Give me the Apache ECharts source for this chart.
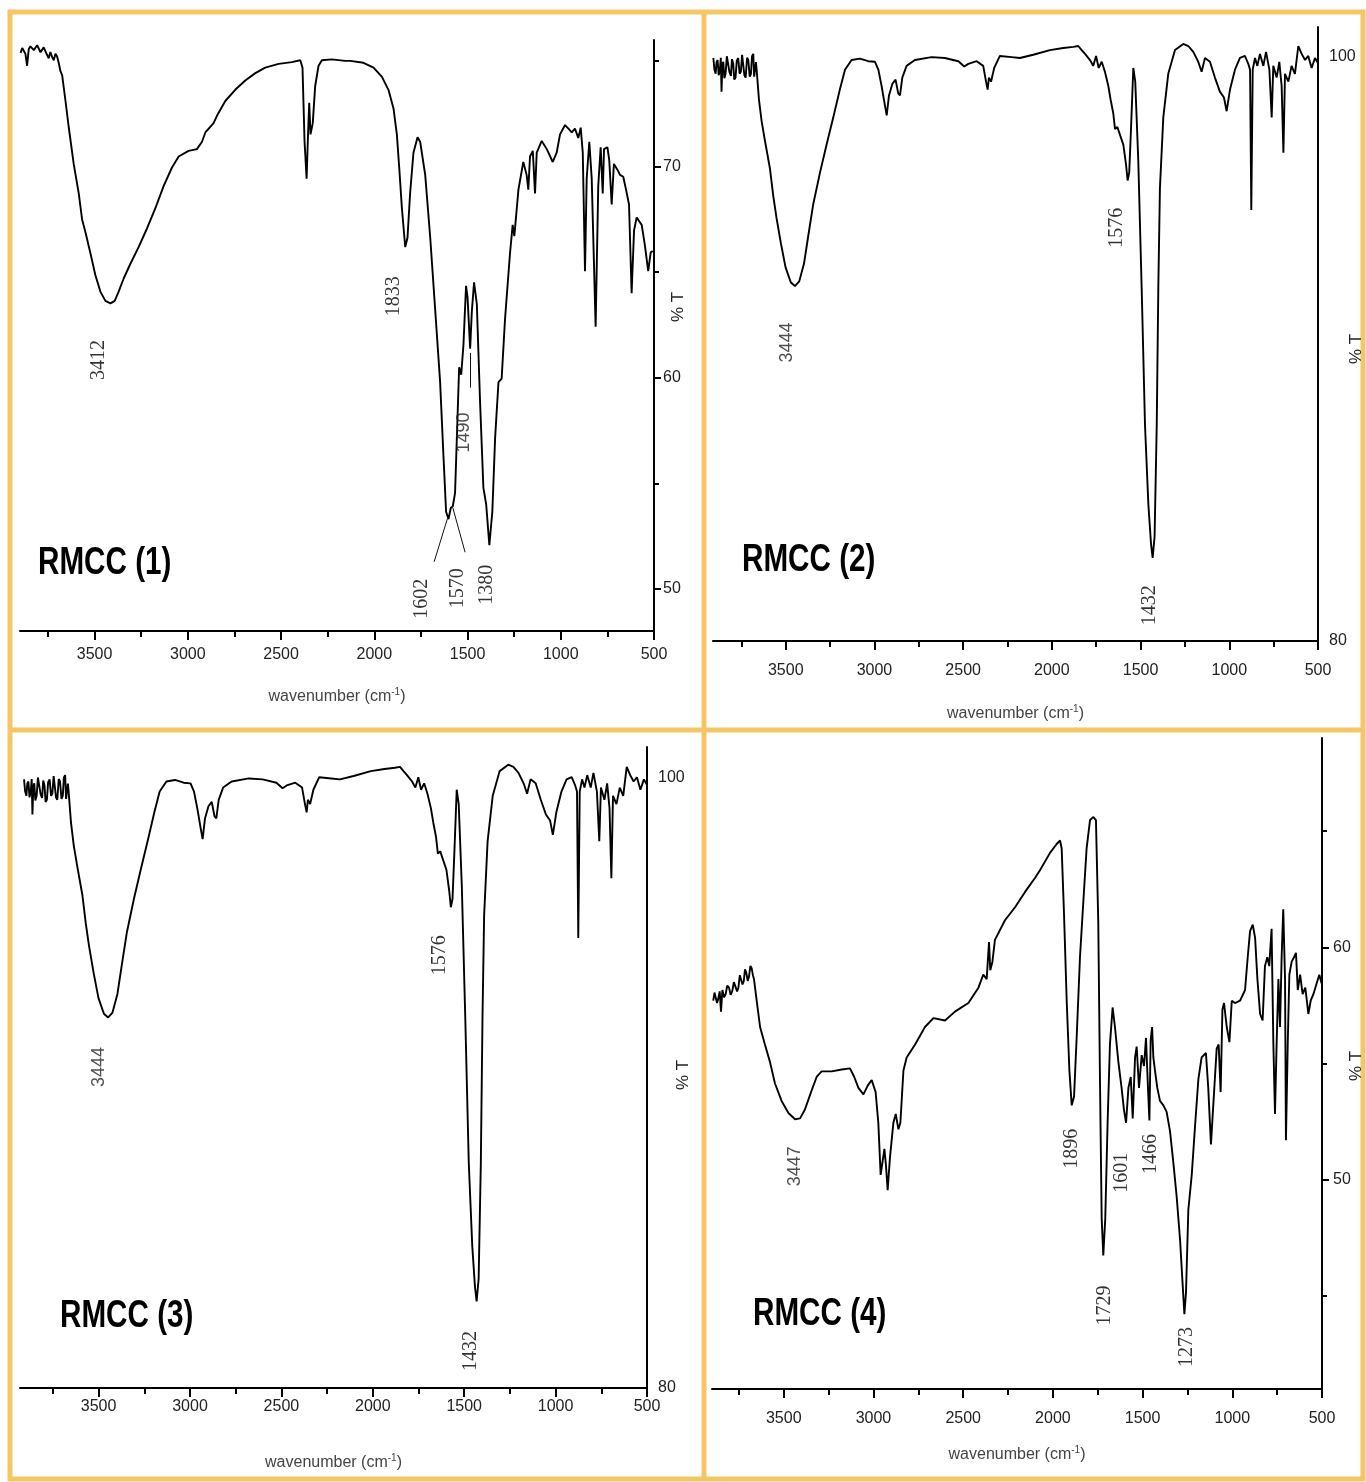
<!DOCTYPE html>
<html>
<head>
<meta charset="utf-8">
<title>FTIR spectra of RMCC (1) to RMCC (4)</title>
<script src="https://cdn.jsdelivr.net/npm/echarts@6/dist/echarts.min.js"></script>
<style>
  html, body { margin: 0; padding: 0; background: #fff; }
  #chart { width: 1366px; height: 1482px; }
</style>
</head>
<body>
<div id="chart"></div>
<script>
// wavenumber ticks shared by all four panels
var X_MAJOR = [500, 1000, 1500, 2000, 2500, 3000, 3500];
var X_MINOR = [750, 1250, 1750, 2250, 2750, 3250, 3750];

// %T ticks
var yLabels1 = [50, 60, 70];
var yMinor1 = [55, 65, 75];
var yLabels2 = [80, 100];
var yLabels3 = [80, 100];
var yLabels4 = [50, 60];
var yMinor4 = [45, 55, 65];

// [wavenumber, %T]
var spectrum1 = [
  [3897,75.39],[3888,75.62],[3880,75.66],[3871,75.35],[3862,74.78],[3853,75.57],[3844,75.70],[3835,75.74],
  [3826,75.52],[3817,75.48],[3808,75.75],[3799,75.71],[3790,75.42],[3782,75.39],[3773,75.65],[3764,75.57],
  [3755,75.30],[3746,75.13],[3737,75.43],[3728,75.20],[3719,75.04],[3710,75.35],[3701,75.22],[3692,74.90],
  [3683,74.52],[3674,74.34],[3656,73.11],[3639,71.89],[3612,70.13],[3585,68.73],[3567,67.50],[3549,66.89],
  [3523,65.92],[3496,64.87],[3469,64.08],[3442,63.64],[3415,63.52],[3392,63.64],[3371,64.08],[3344,64.70],
  [3308,65.40],[3264,66.19],[3219,67.07],[3174,68.03],[3130,69.08],[3085,69.96],[3049,70.48],[2996,70.75],
  [2951,70.83],[2924,71.18],[2906,71.62],[2862,72.06],[2844,72.41],[2799,73.11],[2746,73.64],[2692,74.08],
  [2638,74.43],[2585,74.69],[2513,74.87],[2442,74.95],[2397,75.04],[2385,74.69],[2374,71.18],[2363,69.43],
  [2356,71.36],[2349,73.03],[2342,71.53],[2330,72.06],[2317,73.82],[2299,74.78],[2281,75.04],[2228,75.08],
  [2156,75.01],[2129,75.01],[2058,74.92],[2004,74.69],[1959,74.25],[1924,73.64],[1897,72.76],[1879,71.53],
  [1865,69.78],[1852,68.03],[1834,66.19],[1822,66.63],[1808,68.73],[1790,70.66],[1768,71.39],[1754,71.18],
  [1727,69.61],[1700,66.63],[1674,63.29],[1647,59.79],[1629,56.28],[1615,53.65],[1602,53.30],[1590,53.83],
  [1579,53.91],[1567,54.53],[1554,58.03],[1545,60.49],[1534,60.14],[1522,61.54],[1508,64.35],[1500,63.82],
  [1486,61.37],[1477,63.12],[1465,64.52],[1450,63.47],[1433,58.91],[1415,54.79],[1400,54.00],[1383,52.07],
  [1367,53.65],[1352,57.16],[1334,59.79],[1317,59.96],[1299,62.77],[1272,65.92],[1258,67.24],[1249,66.71],
  [1227,68.91],[1201,70.22],[1183,69.61],[1174,68.91],[1165,70.48],[1150,70.75],[1138,68.73],[1129,70.66],
  [1102,71.22],[1075,70.83],[1043,70.22],[1022,70.66],[1004,71.53],[977,71.97],[959,71.80],[941,71.62],
  [924,71.80],[906,71.36],[893,71.85],[882,70.66],[870,65.05],[861,69.43],[847,71.18],[834,69.43],
  [813,62.42],[799,69.08],[786,70.92],[775,68.73],[768,70.83],[750,70.92],[740,70.31],[727,68.21],
  [715,70.13],[697,69.87],[682,69.61],[665,69.52],[650,68.91],[634,68.21],[620,64.00],[607,66.98],
  [593,67.59],[566,67.24],[549,66.28],[531,65.05],[518,65.93],[507,66.00]
];

var spectrum2 = [
  [3908,99.94],[3902,99.55],[3895,99.40],[3890,99.80],[3884,99.87],[3878,99.35],[3871,99.54],[3866,99.95],
  [3862,98.79],[3857,99.70],[3852,99.81],[3846,99.25],[3839,99.40],[3832,100.00],[3824,99.94],[3817,99.45],
  [3809,99.33],[3803,99.90],[3796,99.74],[3790,99.20],[3783,99.27],[3776,99.85],[3768,99.94],[3760,99.40],
  [3753,99.47],[3746,100.05],[3739,100.01],[3733,99.35],[3726,99.27],[3718,99.95],[3711,99.87],[3703,99.30],
  [3696,99.40],[3690,100.00],[3683,100.08],[3678,99.30],[3674,99.33],[3668,99.80],[3664,99.54],[3651,98.52],
  [3636,97.78],[3617,97.10],[3589,96.16],[3570,95.21],[3552,94.47],[3527,93.59],[3501,92.78],[3471,92.26],
  [3448,92.14],[3424,92.30],[3397,92.91],[3373,93.86],[3345,94.94],[3307,96.02],[3270,96.97],[3232,97.91],
  [3195,98.86],[3166,99.54],[3129,99.87],[3082,99.92],[3035,99.83],[2997,99.81],[2978,99.54],[2960,98.99],
  [2941,98.32],[2931,97.98],[2918,98.66],[2899,99.06],[2881,99.20],[2866,98.73],[2856,98.66],[2843,99.27],
  [2819,99.67],[2772,99.87],[2678,99.97],[2603,99.94],[2527,99.83],[2494,99.65],[2471,99.74],[2424,99.83],
  [2387,99.67],[2371,99.13],[2362,98.86],[2355,99.27],[2343,99.13],[2325,99.60],[2293,100.01],[2227,99.97],
  [2180,99.94],[2105,100.05],[2011,100.21],[1936,100.28],[1879,100.32],[1851,100.35],[1832,100.21],[1813,100.08],
  [1785,99.87],[1767,99.67],[1751,100.01],[1736,99.60],[1719,99.81],[1701,99.47],[1682,98.99],[1669,98.52],
  [1654,98.05],[1644,97.51],[1631,97.58],[1616,97.31],[1597,96.97],[1582,96.29],[1573,95.75],[1564,96.02],
  [1554,97.51],[1541,99.60],[1530,99.13],[1513,96.43],[1494,92.10],[1475,87.37],[1456,84.66],[1441,83.31],
  [1432,82.84],[1421,83.58],[1409,87.37],[1400,92.10],[1391,95.48],[1372,97.91],[1344,99.40],[1306,100.21],
  [1259,100.42],[1231,100.35],[1203,100.15],[1175,99.81],[1156,99.47],[1137,99.94],[1109,99.81],[1081,99.27],
  [1053,98.79],[1030,98.59],[1015,98.12],[996,98.86],[968,99.54],[940,99.94],[912,100.01],[893,99.74],
  [883,99.54],[876,94.74],[868,99.54],[855,99.94],[842,99.67],[827,100.08],[808,99.67],[793,100.15],
  [774,99.54],[761,97.91],[752,99.67],[733,99.27],[718,99.81],[705,98.99],[695,96.70],[686,99.40],
  [667,99.13],[649,99.67],[630,99.40],[611,100.35],[592,100.08],[573,99.87],[555,100.01],[536,99.60],
  [517,99.94],[498,99.74]
];

// RMCC (3) shows the same recorded trace as RMCC (2)
var spectrum3 = spectrum2;

var spectrum4 = [
  [3893,57.70],[3886,58.05],[3880,57.98],[3872,57.60],[3865,57.79],[3857,58.10],[3850,57.23],[3842,58.16],
  [3833,57.85],[3824,57.98],[3815,58.35],[3805,58.26],[3796,57.95],[3787,58.11],[3778,58.50],[3768,58.44],
  [3760,58.10],[3753,58.26],[3745,58.80],[3738,58.73],[3730,58.40],[3723,58.54],[3716,59.05],[3709,58.91],
  [3701,58.55],[3694,58.73],[3686,59.20],[3679,59.10],[3672,58.80],[3666,58.63],[3651,57.70],[3632,56.57],
  [3605,55.82],[3577,55.07],[3549,54.14],[3512,53.39],[3474,52.87],[3437,52.60],[3409,52.64],[3382,53.02],
  [3348,53.77],[3317,54.42],[3289,54.66],[3233,54.66],[3177,54.74],[3131,54.79],[3107,54.42],[3084,53.95],
  [3056,53.67],[3032,54.05],[3010,54.29],[2988,53.77],[2973,52.45],[2960,50.21],[2949,50.21],[2939,51.33],
  [2930,50.58],[2921,49.55],[2908,50.96],[2889,52.45],[2876,52.83],[2861,52.17],[2850,52.45],[2833,54.70],
  [2815,55.26],[2768,55.82],[2713,56.57],[2666,56.95],[2601,56.85],[2546,57.23],[2471,57.60],[2415,58.26],
  [2388,58.82],[2369,58.63],[2356,60.22],[2349,59.01],[2337,59.38],[2323,60.32],[2267,61.16],[2211,61.72],
  [2155,62.38],[2100,62.98],[2072,63.31],[2016,64.06],[1979,64.44],[1960,64.59],[1951,64.25],[1938,61.44],
  [1923,57.70],[1908,54.70],[1895,53.20],[1882,53.58],[1867,56.20],[1849,59.57],[1830,62.00],[1812,64.25],
  [1793,65.47],[1774,65.60],[1760,65.47],[1747,61.07],[1737,53.95],[1728,48.34],[1719,46.74],[1708,48.34],
  [1695,52.45],[1682,55.82],[1667,57.41],[1654,56.57],[1635,55.07],[1617,53.95],[1604,53.02],[1592,52.45],
  [1579,53.95],[1566,54.42],[1555,52.64],[1542,55.26],[1533,55.73],[1520,53.95],[1505,55.36],[1492,54.89],
  [1481,56.10],[1470,53.95],[1462,52.55],[1455,56.01],[1447,56.57],[1440,55.26],[1431,54.70],[1418,53.95],
  [1403,53.39],[1384,53.20],[1366,52.92],[1347,52.08],[1329,50.77],[1310,49.27],[1291,47.40],[1277,45.53],
  [1267,44.22],[1258,45.15],[1245,48.71],[1226,50.21],[1208,52.27],[1189,54.33],[1171,55.26],[1147,55.45],
  [1134,53.95],[1119,51.52],[1106,53.20],[1087,55.64],[1076,55.82],[1065,53.77],[1055,57.32],[1046,57.60],
  [1031,56.57],[1016,55.92],[1003,57.70],[985,57.60],[957,57.70],[929,58.16],[914,59.57],[901,60.69],
  [886,60.97],[873,60.41],[860,58.63],[845,57.13],[831,56.85],[818,59.19],[805,59.57],[794,59.19],
  [781,60.79],[771,55.82],[762,52.83],[753,55.82],[743,58.63],[734,56.57],[725,59.57],[716,61.63],
  [706,58.63],[701,51.70],[691,55.82],[682,58.82],[669,59.38],[656,59.57],[645,59.76],[635,58.16],
  [622,58.82],[608,57.98],[593,58.26],[576,57.13],[563,57.70],[548,57.98],[530,58.44],[515,58.82],
  [502,58.44]
];

// peak notes: [wavenumber, %T where the note sits, text]
var notes1 = [[3478, 60.84, '3412'], [1897, 63.86, '1833'], [1743, 49.53, '1602'],
              [1552, 50.02, '1570'], [1397, 50.19, '1380'], [1517, 57.4, '1490']];
var notes2 = [[3495, 90.21, '3444'], [1635, 94.13, '1576'], [1447, 81.22, '1432']];
var notes3 = [[3498, 90.52, '3444'], [1634, 94.18, '1576'], [1463, 81.21, '1432']];
var notes4 = [[3437, 50.58, '3447'], [1895, 51.33, '1896'], [1617, 50.30, '1601'],
              [1453, 51.11, '1466'], [1709, 44.59, '1729'], [1254, 42.81, '1273']];

// leader lines from notes to peaks: [w1, t1, w2, t2]
var leaders1 = [[1679, 51.28, 1608, 53.32], [1513, 51.73, 1579, 53.84], [1486, 61.18, 1486, 59.53]];

(function () {
  'use strict';

  var FRAME = '#f5c566';
  var SANS = '"Liberation Sans", Arial, sans-serif';
  var SERIF = '"Liberation Serif", "Times New Roman", serif';
  var SANS_NOTES = ['1490', '3444', '3447'];

  var panels = [
    { title: 'RMCC (1)', spectrum: spectrum1, notes: notes1, leaders: leaders1,
      xMax: 3900, yMin: 48, yMax: 76, yLabels: yLabels1, yTicks: yLabels1, yMinor: yMinor1,
      box: [20, 40, 634, 591], xLabelGap: 16, xNameGap: 56, yLabelGap: 9,
      titleAt: [38, 564], unitAt: [678, 307] },
    { title: 'RMCC (2)', spectrum: spectrum2, notes: notes2, leaders: [],
      xMax: 3910, yMin: 80, yMax: 101, yLabels: yLabels2, yTicks: [], yMinor: [],
      box: [713, 27, 605, 614], xLabelGap: 22, xNameGap: 63, yLabelGap: 11,
      titleAt: [742, 561], unitAt: [1356, 349] },
    { title: 'RMCC (3)', spectrum: spectrum3, notes: notes3, leaders: [],
      xMax: 3930, yMin: 80, yMax: 101, yLabels: yLabels3, yTicks: [], yMinor: [],
      box: [20, 747, 627, 641], xLabelGap: 11, xNameGap: 65, yLabelGap: 11,
      titleAt: [60, 1317], unitAt: [683, 1075] },
    { title: 'RMCC (4)', spectrum: spectrum4, notes: notes4, leaders: [],
      xMax: 3900, yMin: 41, yMax: 69, yLabels: yLabels4, yTicks: yLabels4, yMinor: yMinor4,
      box: [712, 738, 610, 651], xLabelGap: 22, xNameGap: 56, yLabelGap: 11,
      titleAt: [753, 1315], unitAt: [1356, 1066] }
  ];

  var axisLineStyle = { color: '#000', width: 2 };

  function plain(v) {
    return String(v);
  }

  var grids = [];
  var xAxes = [];
  var yAxes = [];
  var series = [];
  var graphics = [
    { type: 'rect', silent: true, z: 0,
      shape: { x: 10, y: 12, width: 1353, height: 1467 },
      style: { fill: 'none', stroke: FRAME, lineWidth: 5 } },
    { type: 'line', silent: true, z: 0, shape: { x1: 704, y1: 12, x2: 704, y2: 1479 },
      style: { stroke: FRAME, lineWidth: 5 } },
    { type: 'line', silent: true, z: 0, shape: { x1: 10, y1: 730, x2: 1363, y2: 730 },
      style: { stroke: FRAME, lineWidth: 5 } }
  ];

  panels.forEach(function (p, i) {
    grids.push({
      left: p.box[0], top: p.box[1], width: p.box[2], height: p.box[3],
      containLabel: false, outerBoundsMode: 'none'
    });

    xAxes.push({
      type: 'value', gridIndex: i, position: 'bottom', inverse: true,
      min: 500, max: p.xMax,
      axisLine: { onZero: false, lineStyle: axisLineStyle },
      axisTick: { customValues: X_MAJOR, length: 9, lineStyle: axisLineStyle },
      axisLabel: { customValues: X_MAJOR, formatter: plain, margin: p.xLabelGap, fontSize: 16,
                   fontFamily: SANS, color: '#222' },
      splitLine: { show: false },
      name: '{t|wavenumber (cm}{s|-1}{t|)}',
      nameLocation: 'middle', nameGap: p.xNameGap,
      nameTextStyle: {
        rich: {
          t: { fontSize: 16, fontFamily: SANS, color: '#444', lineHeight: 20 },
          s: { fontSize: 10, fontFamily: SANS, color: '#444', verticalAlign: 'top' }
        }
      }
    });
    xAxes.push({
      type: 'value', gridIndex: i, position: 'bottom', inverse: true,
      min: 500, max: p.xMax,
      axisLine: { show: false },
      axisTick: { customValues: X_MINOR, length: 6, lineStyle: axisLineStyle },
      axisLabel: { show: false },
      splitLine: { show: false }
    });

    yAxes.push({
      type: 'value', gridIndex: i, position: 'right',
      min: p.yMin, max: p.yMax,
      axisLine: { show: true, onZero: false, lineStyle: axisLineStyle },
      axisTick: { show: p.yTicks.length > 0, customValues: p.yTicks, length: 7, lineStyle: axisLineStyle },
      axisLabel: { customValues: p.yLabels, formatter: plain, margin: p.yLabelGap, fontSize: 16,
                   fontFamily: SANS, color: '#222' },
      splitLine: { show: false }
    });
    yAxes.push({
      type: 'value', gridIndex: i, position: 'right',
      min: p.yMin, max: p.yMax,
      axisLine: { show: false },
      axisTick: { show: p.yMinor.length > 0, customValues: p.yMinor, length: 5, lineStyle: axisLineStyle },
      axisLabel: { show: false },
      splitLine: { show: false }
    });

    series.push({
      type: 'line', name: p.title, xAxisIndex: 2 * i, yAxisIndex: 2 * i,
      data: p.spectrum, showSymbol: false, symbol: 'none', silent: true, z: 3,
      lineStyle: { color: '#000', width: 1.9 },
      markLine: {
        silent: true, symbol: ['none', 'none'], label: { show: false },
        lineStyle: { color: '#111', width: 1, type: 'solid' },
        data: p.leaders.map(function (l) {
          return [{ coord: [l[0], l[1]] }, { coord: [l[2], l[3]] }];
        })
      }
    });

    series.push({
      type: 'scatter', xAxisIndex: 2 * i, yAxisIndex: 2 * i, silent: true, z: 4,
      symbolSize: 1, itemStyle: { color: 'rgba(0,0,0,0)' },
      data: p.notes.map(function (n) {
        var sans = SANS_NOTES.indexOf(n[2]) >= 0;
        return {
          value: [n[0], n[1]], name: n[2],
          label: { fontFamily: sans ? SANS : SERIF, fontSize: sans ? 18 : 20,
                   color: sans ? '#222' : '#000' }
        };
      }),
      label: { show: true, position: 'inside', rotate: 90, formatter: '{b}' }
    });

    // condensed bold sample name: Liberation Sans Bold squeezed horizontally
    graphics.push({
      type: 'text', silent: true, z: 10, x: p.titleAt[0], y: p.titleAt[1], scaleX: 0.78,
      style: { text: p.title, fill: '#000', verticalAlign: 'middle', align: 'left',
               font: 'bold 38px ' + SANS }
    });
    graphics.push({
      type: 'text', silent: true, z: 10, x: p.unitAt[0], y: p.unitAt[1], rotation: Math.PI / 2,
      style: { text: '% T', fill: '#222', verticalAlign: 'middle', align: 'center',
               font: '17px ' + SANS }
    });
  });

  var chart = echarts.init(document.getElementById('chart'), null, { renderer: 'canvas' });
  chart.setOption({
    animation: false,
    backgroundColor: '#fff',
    textStyle: { fontFamily: SANS },
    grid: grids,
    xAxis: xAxes,
    yAxis: yAxes,
    series: series,
    graphic: graphics
  });
})();
</script>
</body>
</html>
